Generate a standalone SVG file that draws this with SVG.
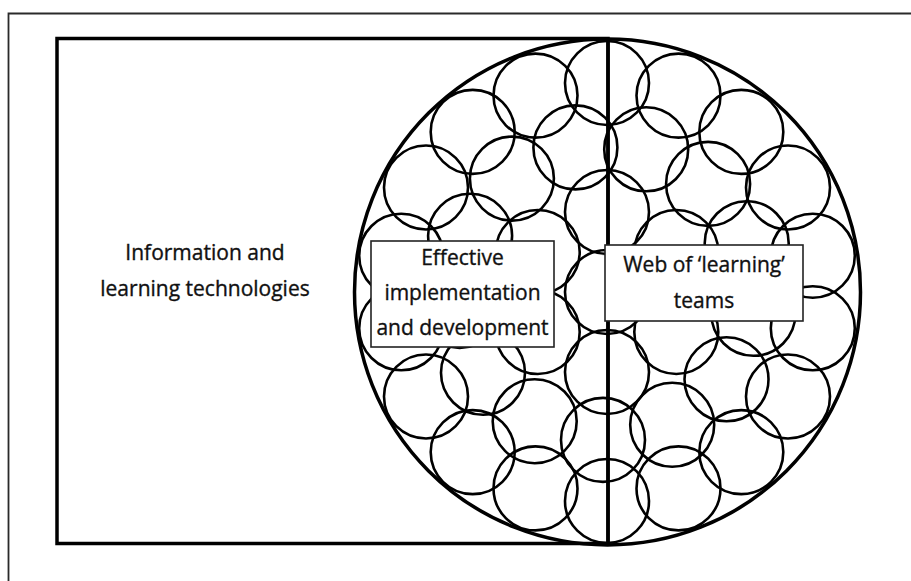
<svg xmlns="http://www.w3.org/2000/svg" width="911" height="581" viewBox="0 0 911 581">
<style>
.frame{fill:none;stroke:#2a2a2a;stroke-width:1.8}
.thick{fill:none;stroke:#000;stroke-width:3.5}
.web circle{fill:none;stroke:#000;stroke-width:2.6}
.box{fill:#fff;stroke:#222;stroke-width:1.6}
text{font-family:"Open Sans","Noto Sans","DejaVu Sans",sans-serif;font-size:21px;fill:#111;stroke:#111;stroke-width:0.35;text-anchor:middle}
</style>
<rect width="911" height="581" fill="#fff"/>
<g id="frame">
<polyline class="frame" points="911,13.5 8.5,13.5 8.5,581"/>
</g>
<g id="ilt-region">
<rect class="thick" x="57" y="38.5" width="551" height="505"/>
<text x="205" y="260">Information and</text>
<text x="205" y="296">learning technologies</text>
</g>
<g id="web" class="web">
<circle class="thick" cx="607.5" cy="292" r="253" style="stroke-width:3.5"/>
<circle cx="607" cy="83" r="42"/>
<circle cx="535.5" cy="95.6" r="42"/>
<circle cx="472.7" cy="131.9" r="42"/>
<circle cx="426" cy="187.5" r="42"/>
<circle cx="401.2" cy="255.7" r="42"/>
<circle cx="401.2" cy="328.3" r="42"/>
<circle cx="426" cy="396.5" r="42"/>
<circle cx="472.7" cy="452.1" r="42"/>
<circle cx="535.5" cy="488.4" r="42"/>
<circle cx="607" cy="501" r="42"/>
<circle cx="678.5" cy="488.4" r="42"/>
<circle cx="741.3" cy="452.1" r="42"/>
<circle cx="788" cy="396.5" r="42"/>
<circle cx="812.8" cy="328.3" r="42"/>
<circle cx="812.8" cy="255.7" r="42"/>
<circle cx="788" cy="187.5" r="42"/>
<circle cx="741.3" cy="131.9" r="42"/>
<circle cx="678.5" cy="95.6" r="42"/>
<circle cx="511.9" cy="178.6" r="42"/>
<circle cx="575.4" cy="147.4" r="42"/>
<circle cx="646.2" cy="149.3" r="42"/>
<circle cx="708.1" cy="183.9" r="42"/>
<circle cx="746.7" cy="243.2" r="42"/>
<circle cx="753.4" cy="313.8" r="42"/>
<circle cx="726.5" cy="379.3" r="42"/>
<circle cx="672.2" cy="424.8" r="42"/>
<circle cx="603" cy="439.9" r="42"/>
<circle cx="534.7" cy="421.2" r="42"/>
<circle cx="483" cy="372.8" r="42"/>
<circle cx="459.7" cy="305.9" r="42"/>
<circle cx="470.1" cy="235.8" r="42"/>
<circle cx="607" cy="372" r="42"/>
<circle cx="676.3" cy="332" r="42"/>
<circle cx="676.3" cy="252" r="42"/>
<circle cx="607" cy="212" r="42"/>
<circle cx="537.7" cy="252" r="42"/>
<circle cx="537.7" cy="332" r="42"/>
<circle cx="607" cy="292" r="42"/>
</g>
<g id="connectors">
<line class="thick" x1="608" y1="38.5" x2="608" y2="543.5"/>
</g>
<g id="effective-implementation">
<rect class="box" x="371" y="241" width="183" height="106"/>
<text x="462.5" y="265">Effective</text>
<text x="462.5" y="300">implementation</text>
<text x="462.5" y="335">and development</text>
</g>
<g id="web-of-learning-teams">
<rect class="box" x="605" y="245" width="198" height="76"/>
<text x="704" y="272">Web of ‘learning’</text>
<text x="704" y="308">teams</text>
</g>
</svg>
